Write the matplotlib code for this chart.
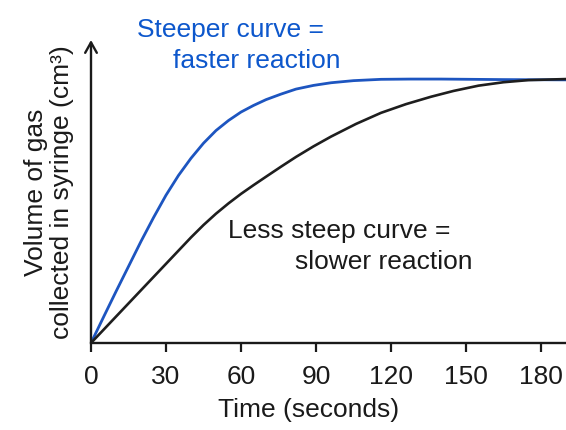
import matplotlib.pyplot as plt

plt.rcParams['font.family'] = ['Liberation Sans', 'DejaVu Sans']

# time (s) and relative gas volume for the two reactions
fast_t = [0, 5, 10, 15, 20, 25, 30, 35, 40, 45, 50, 55, 60, 65, 70, 76, 82, 89, 96,
          105, 116, 128, 140, 165, 190]
fast_v = [0, 0.098, 0.195, 0.29, 0.385, 0.475, 0.56, 0.635, 0.70, 0.757, 0.805, 0.843,
          0.875, 0.90, 0.922, 0.943, 0.962, 0.976, 0.986, 0.994, 0.999, 1.0, 1.0, 0.998, 0.997]

slow_t = [0, 5, 10, 15, 20, 25, 30, 35, 40, 45, 50, 55, 60, 65, 70, 76, 82, 89, 96,
          106, 116, 126, 136, 145, 155, 165, 175, 190]
slow_v = [0, 0.05, 0.10, 0.15, 0.20, 0.25, 0.30, 0.35, 0.40, 0.447, 0.49, 0.529, 0.565,
          0.598, 0.63, 0.668, 0.705, 0.745, 0.782, 0.83, 0.872, 0.905, 0.933, 0.955,
          0.975, 0.988, 0.996, 1.0]

xticks = [0, 30, 60, 90, 120, 150, 180]

W, H = 566, 430
fig = plt.figure(figsize=(W / 100, H / 100), dpi=100)
ax = fig.add_axes([91 / W, (H - 343) / H, 1 - 91 / W, (343 - 40) / H])

blue = '#1d55c0'
ax.plot(fast_t, fast_v, color=blue, lw=2.0, solid_capstyle='round',
        solid_joinstyle='round', zorder=3)
ax.plot(slow_t, slow_v, color='#1e1e1e', lw=1.9, solid_capstyle='round',
        solid_joinstyle='round', zorder=3)

ax.set_xlim(0, 190)
ax.set_ylim(0, 1.148)
for s in ['top', 'right', 'left']:
    ax.spines[s].set_visible(False)
ax.spines['bottom'].set_linewidth(1.7)
ax.spines['bottom'].set_color('#1a1a1a')
ax.set_xticks(xticks)
ax.set_yticks([])
ax.tick_params(axis='x', direction='out', length=6.5, width=1.6, color='#1a1a1a',
               labelsize=19, pad=9, labelcolor='#1a1a1a')

# y axis drawn as an arrow
ax.annotate('', xy=(0, 1.148), xytext=(0, 0), xycoords='data',
            arrowprops=dict(arrowstyle='->,head_length=0.75,head_width=0.42',
                            lw=1.7, color='#1a1a1a', shrinkA=0, shrinkB=0),
            annotation_clip=False)

def px_text(x, y, s, **kw):
    fig.text(x / W, 1 - y / H, s, fontsize=19, **kw)

px_text(137, 37, 'Steeper curve =', color='#0d57cc', va='baseline')
px_text(173, 68, 'faster reaction', color='#0d57cc', va='baseline')
px_text(228, 238, 'Less steep curve =', color='#1a1a1a', va='baseline')
px_text(295, 269, 'slower reaction', color='#1a1a1a', va='baseline')

px_text(49, 192, 'Volume of gas\ncollected in syringe (cm\u00b3)', color='#1a1a1a',
        rotation=90, ha='center', va='center', multialignment='center', linespacing=1.15)
px_text(309, 410, 'Time (seconds)', color='#1a1a1a', ha='center', va='center')

fig.savefig('out.png', dpi=100, facecolor='white')
